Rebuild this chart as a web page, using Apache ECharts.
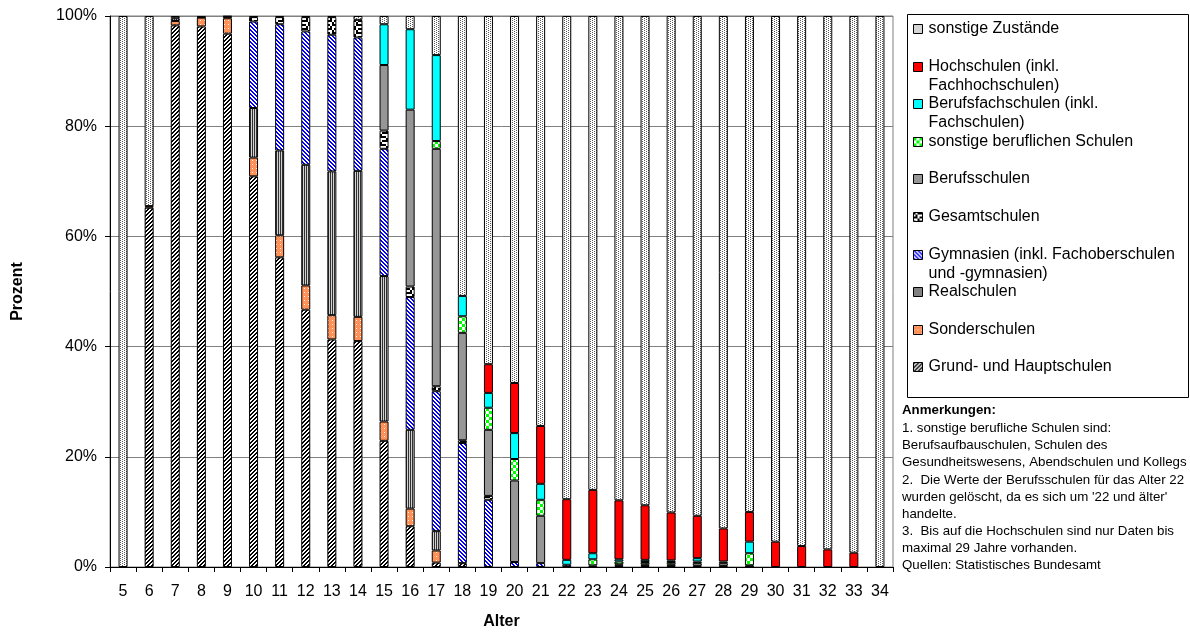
<!DOCTYPE html>
<html>
<head>
<meta charset="utf-8">
<script src="https://cdn.jsdelivr.net/npm/echarts@6/dist/echarts.min.js"></script>
<style>
html,body{margin:0;padding:0;background:#fff;}
#chart{width:1190px;height:632px;}
</style>
</head>
<body>
<div id="chart"></div>
<script>
// ---- Data (percent shares per age) ----
const ages = ['5','6','7','8','9','10','11','12','13','14','15','16','17','18','19','20','21','22','23','24','25','26','27','28','29','30','31','32','33','34'];

const grundHaupt   = [0,65.2,98.3,98.1,96.8,70.9,56.2,46.7,41.3,41.0,22.9,7.4,0.8,0.7,0,0,0,0,0,0,0,0,0,0,0,0,0,0,0,0];
const sonder       = [0,0.3,0.8,1.6,2.8,3.4,4.0,4.4,4.4,4.4,3.5,3.2,2.2,0,0,0,0,0,0,0,0,0,0,0,0,0,0,0,0,0];
const real         = [0,0,0.5,0.1,0.3,9.0,15.4,21.9,26.1,26.5,26.4,14.3,3.5,0,0,0,0,0,0,0,0,0,0,0,0,0,0,0,0,0];
const gymnasien    = [0,0,0,0,0,15.7,22.9,24.2,24.8,24.2,23.1,24.1,25.4,21.8,12.2,0.9,0.7,0.4,0.3,0.2,0.2,0.2,0.2,0.2,0.1,0,0,0,0,0];
const gesamt       = [0,0,0,0,0,0.8,1.3,2.6,3.2,3.2,3.3,1.9,0.9,0.5,0.7,0,0,0,0,0,0,0,0,0,0,0,0,0,0,0];
const berufsschul  = [0,0,0,0,0,0,0,0,0,0,11.9,32.1,43.1,19.5,12.0,14.8,8.6,0,0,0.3,0.3,0.3,0.5,0.5,0.2,0,0,0,0,0];
const sonstBeruf   = [0,0,0,0,0,0,0,0,0,0,0,0,1.4,3.0,4.0,3.9,2.9,0,1.1,0.5,0.4,0.4,0.3,0.3,2.2,0,0,0,0,0];
const berufsfach   = [0,0,0,0,0,0,0,0,0,0,7.4,14.6,15.6,3.7,2.7,4.7,2.9,0.9,1.1,0.4,0.4,0.3,0.6,0,2.1,0,0,0,0,0];
const hochschulen  = [0,0,0,0,0,0,0,0,0,0,0,0,0,0,5.2,9.1,10.5,11.0,11.5,10.7,9.9,8.7,7.7,6.0,5.4,4.6,3.8,3.2,2.6,0];
const sonstZust    = [100,34.5,0.4,0.2,0.1,0.2,0.2,0.2,0.2,0.7,1.5,2.4,7.1,50.8,63.2,66.6,74.4,87.7,86.0,87.9,88.8,90.1,90.7,93.0,90.0,95.4,96.2,96.8,97.4,100];

const yTicks = [0,20,40,60,80,100];

// ---- Pattern fills ----
function pat(w, h, fn){
  const c = document.createElement('canvas'); c.width = w; c.height = h;
  const g = c.getContext('2d');
  for (let y = 0; y < h; y++) for (let x = 0; x < w; x++){
    g.fillStyle = fn(x, y); g.fillRect(x, y, 1, 1);
  }
  return {image: c, repeat: 'repeat'};
}
const pSonstZust = pat(4,2,(x,y)=> ((x===0&&y===0)||(x===2&&y===1)) ? '#5a5a5a' : '#ffffff');
const pHoch = '#ff0000';
const pBerufsfach = '#00ffff';
const pSonstBer = pat(6,6,(x,y)=> ((Math.floor(x/3)+Math.floor(y/3))%2===0) ? '#00ff00' : '#ffffff');
const pBerufsschul = '#969696';
const confetti = [[1,0,1,1],[0,1,0,0],[1,1,0,1],[0,0,1,0]];
const pGesamt = pat(8,8,(x,y)=> confetti[Math.floor(y/2)][Math.floor(x/2)] ? '#000000' : '#ffffff');
const pGym = pat(4,4,(x,y)=> (((x - y) % 4 + 4) % 4 < 2) ? '#0000ff' : '#ffffff');
const pReal = pat(2,2,(x,y)=> x===0 ? '#303030' : '#d2d2d2');
const pSonder = pat(4,4,(x,y)=> (x===0&&y===0) ? '#ffffff' : ((x+y)%2===0 ? '#ff9966' : '#ff8a4c'));
const pGrund = pat(4,4,(x,y)=> ((x + y) % 4 < 2) ? '#000000' : '#ffffff');

const FONT = "'Liberation Sans', Arial, sans-serif";

// bottom to top stacking order
const seriesDefs = [
  {name:'Grund- und Hauptschulen', data:grundHaupt, color:pGrund, label:'Grund- und Hauptschulen'},
  {name:'Sonderschulen', data:sonder, color:pSonder, label:'Sonderschulen'},
  {name:'Realschulen', data:real, color:pReal, label:'Realschulen'},
  {name:'Gymnasien (inkl. Fachoberschulen und -gymnasien)', data:gymnasien, color:pGym, label:'\nGymnasien (inkl. Fachoberschulen\nund -gymnasien)'},
  {name:'Gesamtschulen', data:gesamt, color:pGesamt, label:'Gesamtschulen'},
  {name:'Berufsschulen', data:berufsschul, color:pBerufsschul, label:'Berufsschulen'},
  {name:'sonstige beruflichen Schulen', data:sonstBeruf, color:pSonstBer, label:'sonstige beruflichen Schulen'},
  {name:'Berufsfachschulen (inkl. Fachschulen)', data:berufsfach, color:pBerufsfach, label:'\nBerufsfachschulen (inkl.\nFachschulen)'},
  {name:'Hochschulen (inkl. Fachhochschulen)', data:hochschulen, color:pHoch, label:'\nHochschulen (inkl.\nFachhochschulen)'},
  {name:'sonstige Zustände', data:sonstZust, color:pSonstZust, label:'sonstige Zustände'}
];

// legend item first-line centres (top to bottom = reverse stack order)
const legendCenters = [29,67,104,142,179,217,255,292,330,367];
const legendOrder = seriesDefs.slice().reverse();
const legends = legendOrder.map((s, i) => {
  const multi = s.label.indexOf('\n') >= 0;
  return {
    data: [s.name],
    orient: 'vertical',
    left: 913,
    top: legendCenters[i] - (multi ? 28.5 : 9.5),
    padding: 0,
    itemWidth: 9, itemHeight: 9,
    itemGap: 0,
    icon: 'rect',
    selectedMode: false,
    formatter: () => s.label,
    textStyle: {fontFamily: FONT, fontSize: 16, color: '#000', lineHeight: 19, padding: [0,0,0,1]},
    itemStyle: {borderColor: '#000', borderWidth: 1}
  };
});

const series = seriesDefs.map(s => ({
  name: s.name,
  type: 'bar',
  stack: 'total',
  barWidth: 9,
  data: s.data.map(v => v === 0 ? null : v),
  itemStyle: {color: s.color, borderColor: '#000', borderWidth: 1},
  emphasis: {disabled: true},
  animation: false
}));

const notes = [
  '1. sonstige berufliche Schulen sind:',
  'Berufsaufbauschulen, Schulen des',
  'Gesundheitswesens, Abendschulen und Kollegs',
  "2.  Die Werte der Berufsschulen für das Alter 22",
  "wurden gelöscht, da es sich um '22 und älter'",
  'handelte.',
  '3.  Bis auf die Hochschulen sind nur Daten bis',
  'maximal 29 Jahre vorhanden.',
  'Quellen: Statistisches Bundesamt'
];

const chart = echarts.init(document.getElementById('chart'), null, {renderer: 'canvas'});
chart.setOption({
  animation: false,
  backgroundColor: '#ffffff',
  textStyle: {fontFamily: FONT},
  grid: {left: 110, right: 297, top: 16, bottom: 65, show: true, borderColor: '#808080', borderWidth: 1, outerBoundsMode: 'none', containLabel: false},
  legend: legends,
  xAxis: {
    type: 'category',
    data: ages,
    name: 'Alter',
    nameLocation: 'middle',
    nameGap: 47,
    nameTextStyle: {fontFamily: FONT, fontSize: 16, fontWeight: 'bold', color: '#000'},
    axisLine: {lineStyle: {color: '#000', width: 1}},
    axisTick: {show: true, interval: 0, length: 5, lineStyle: {color: '#000'}},
    axisLabel: {interval: 0, fontFamily: FONT, fontSize: 16, color: '#000', margin: 17}
  },
  yAxis: {
    type: 'value',
    min: yTicks[0], max: yTicks[yTicks.length-1], interval: 20,
    name: 'Prozent',
    nameLocation: 'middle',
    nameGap: 84,
    nameRotate: 90,
    nameTextStyle: {fontFamily: FONT, fontSize: 16, fontWeight: 'bold', color: '#000'},
    axisLine: {show: true, lineStyle: {color: '#000', width: 1}},
    axisTick: {show: true, length: 5, lineStyle: {color: '#000'}},
    axisLabel: {formatter: '{value}%', fontFamily: FONT, fontSize: 16, color: '#000', margin: 13},
    splitLine: {show: true, lineStyle: {color: '#808080', width: 1}}
  },
  graphic: [
    {type: 'rect', shape: {x: 907.5, y: 14.5, width: 281, height: 383}, style: {fill: 'none', stroke: '#000', lineWidth: 1}, silent: true, z: 0},
    {type: 'text', left: 902, top: 404, style: {text: 'Anmerkungen:', font: "bold 13.3px 'Liberation Sans', Arial, sans-serif", fill: '#000'}},
    {type: 'text', left: 902, top: 420, style: {text: notes.join('\n'), font: "13.3px 'Liberation Sans', Arial, sans-serif", lineHeight: 17.1, fill: '#000'}}
  ],
  series: series
});
</script>
</body>
</html>
